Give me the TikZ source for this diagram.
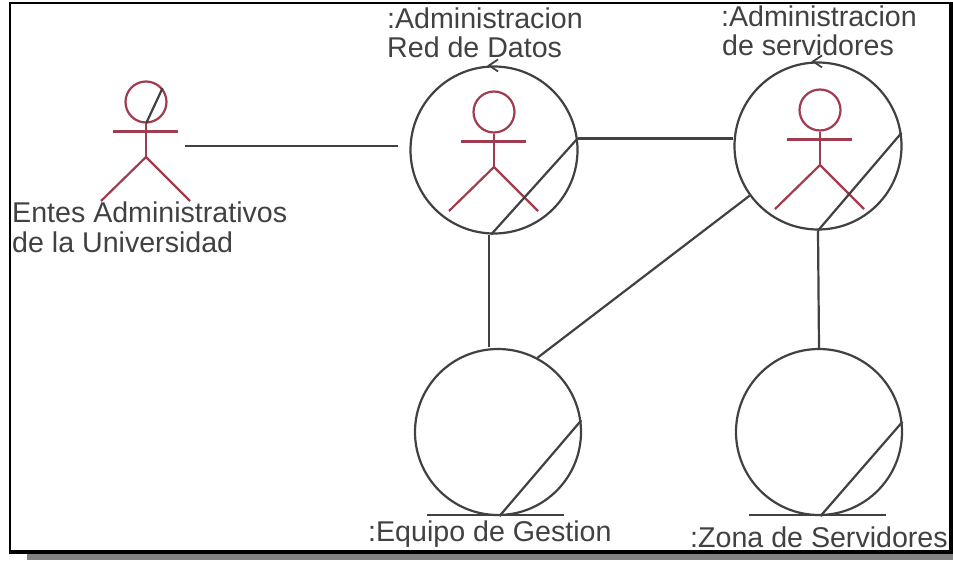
\documentclass[tikz,border=0pt]{standalone}
\usepackage{fontspec}
\setmainfont{Liberation Sans}
\definecolor{actorred}{RGB}{160,60,80}
\definecolor{ink}{RGB}{65,65,65}
\definecolor{shadowgray}{RGB}{130,130,130}
\tikzset{
  px/.style={x=1pt,y=-1pt},
  lifeline/.style={draw=ink,line width=2.2pt},
  actorline/.style={draw=actorred,line width=2.2pt},
  ballnode/.style={circle,draw=ink,line width=2.2pt,minimum size=#1,inner sep=0pt},
  headnode/.style={circle,draw=actorred,line width=2.2pt,minimum size=#1,inner sep=0pt},
  lbl/.style={font=\fontsize{28.6}{30}\selectfont,text=ink,align=left,inner sep=0pt,anchor=base west},
}
\newcommand{\stickman}[3]{%
  \node[headnode=41pt] (#3) at (#1,#2) {};
  \draw[actorline] (#3.south) -- (#1,#2+55);
  \draw[actorline,line width=3pt] (#1-33,#2+29) -- (#1+32,#2+29);
  \draw[actorline] (#1-45,#2+99) -- (#1,#2+55) -- (#1+44,#2+99);
}
\begin{document}
\begin{tikzpicture}[px]
\useasboundingbox (0,0) rectangle (953,560);
\fill[shadowgray] (27,554) rectangle (953,560);
\fill[black] (9,2) rectangle (953,554);
\fill[white] (11,4) rectangle (949,550);
% balls
\node[ballnode=167pt] (b1) at (494,150) {};
\node[ballnode=167pt] (b2) at (818,146) {};
\node[ballnode=166pt] (b3) at (498,432) {};
\node[ballnode=166pt] (b4) at (819,432) {};
% actors
\stickman{146}{102}{a1}
\stickman{494}{112}{a2}
\stickman{820}{110}{a3}
\draw[lifeline] (a1.south) -- (a1.40);
% diagonals
\draw[lifeline] (b1.8) -- (b1.-92);
\draw[lifeline] (b2.9) -- (b2.-90);
\draw[lifeline] (b3.8) -- (b3.-89);
\draw[lifeline] (b4.7) -- (b4.-89);
% base bars
\coordinate (b3l) at (427,515);
\coordinate (b3r) at (564,515);
\coordinate (b4l) at (749,515);
\coordinate (b4r) at (886,515);
\draw[lifeline] (b3l) -- (b3r);
\draw[lifeline] (b4l) -- (b4r);
% connectors
\coordinate (a1r) at (185,146);
\coordinate (b1l) at (398,146);
\coordinate (b3t) at (489,347);
\draw[lifeline] (a1r) -- (b1l);
\draw[lifeline,line width=2.6pt] (b1.8) -- (b1.8 -| b2.west);
\draw[lifeline] (b3t |- b1.south) -- (b3t);
\draw[lifeline] (b2.-144) -- (b3.62);
\draw[lifeline] (b2.south) -- (b4.north);
% self arrows
\draw[ink,line width=1.8pt] (b1.92) ++(7,-6) -- ++(-9,6) -- ++(9,6);
\draw[ink,line width=1.8pt] (b2.92) ++(7,-6) -- ++(-9,6) -- ++(9,6);
% labels
\node[lbl] (t1) at (12,222) {Entes Administrativos};
\node[lbl] (t2) at (12,252) {de la Universidad};
\node[lbl] (t3) at (387,28) {:Administracion};
\node[lbl] (t4) at (387,57) {Red de Datos};
\node[lbl] (t5) at (721,26) {:Administracion};
\node[lbl] (t6) at (722,55) {de servidores};
\node[lbl] (t7) at (368,541) {:Equipo de Gestion};
\node[lbl] (t8) at (690,547) {:Zona de Servidores};
\end{tikzpicture}
\end{document}
